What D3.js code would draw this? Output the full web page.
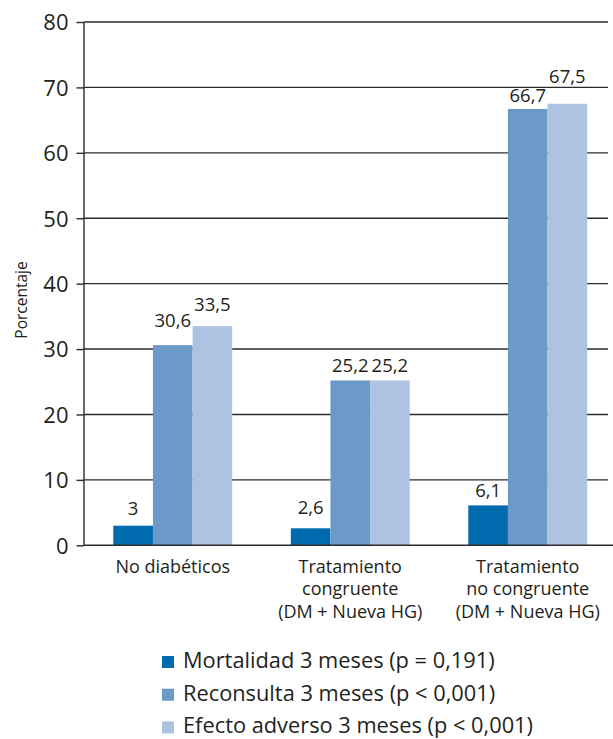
<!DOCTYPE html>
<html>
<head>
<meta charset="utf-8">
<script src="https://cdn.jsdelivr.net/npm/d3@7"></script>
<style>
  html, body { margin: 0; padding: 0; background: #fff; }
  svg { display: block; font-family: "Open Sans", "Noto Sans", sans-serif; }
</style>
</head>
<body>
<svg id="chart" width="613" height="739"></svg>
<script>
// ---- data ----
const categories = [
  ["No diabéticos"],
  ["Tratamiento", "congruente", "(DM + Nueva HG)"],
  ["Tratamiento", "no congruente", "(DM + Nueva HG)"]
];
const seriesNames = [
  "Mortalidad 3 meses (p = 0,191)",
  "Reconsulta 3 meses (p < 0,001)",
  "Efecto adverso 3 meses (p < 0,001)"
];
const mortalidad = [3, 2.6, 6.1];
const reconsulta = [30.6, 25.2, 66.7];
const efectoAdverso = [33.5, 25.2, 67.5];
const yTicks = [0, 10, 20, 30, 40, 50, 60, 70, 80];
const colors = ["#006bae", "#6b9ac9", "#aec3e1"];

const seriesValues = [mortalidad, reconsulta, efectoAdverso];
const fmt = v => String(v).replace(".", ",");

// ---- layout ----
const svg = d3.select("#chart");
const mLeft = 84, mRight = 616.5, mTop = 22, mBottom = 545.3;
const axisColor = "#2b2b2b";

const y = d3.scaleLinear().domain([0, 80]).range([mBottom, mTop]);
const x0 = d3.scaleBand().domain(d3.range(categories.length))
  .range([mLeft, mRight]).paddingInner(0.33).paddingOuter(0.165);
const x1 = d3.scaleBand().domain(d3.range(seriesValues.length))
  .range([0, x0.bandwidth()]);

// gridlines
svg.append("g").selectAll("line").data(yTicks.filter(t => t > 0)).join("line")
  .attr("x1", mLeft).attr("x2", 608)
  .attr("y1", d => y(d)).attr("y2", d => y(d))
  .attr("stroke", axisColor).attr("stroke-width", 1.4);

// y axis
const yAxis = d3.axisLeft(y).tickValues(yTicks).tickSize(7.5).tickPadding(8);
const gy = svg.append("g").attr("transform", `translate(${mLeft},0)`).call(yAxis);
gy.select(".domain").attr("stroke", axisColor).attr("stroke-width", 1.4)
  .attr("d", `M0,${y(80)}V${y(0)}`);
gy.selectAll(".tick line").attr("stroke", axisColor).attr("stroke-width", 1.4);
gy.selectAll(".tick text").attr("font-size", 22).attr("fill", "#231f20")
  .attr("font-family", "Open Sans, sans-serif").attr("dy", "0.36em");

// y title
svg.append("text")
  .attr("transform", `translate(27,${300}) rotate(-90)`)
  .attr("text-anchor", "middle").attr("font-size", 15.5).attr("fill", "#231f20")
  .text("Porcentaje");

// bars
const groups = svg.append("g").selectAll("g").data(categories).join("g")
  .attr("transform", (d, i) => `translate(${x0(i)},0)`);

groups.selectAll("rect")
  .data((d, i) => seriesValues.map((s, j) => ({ s: j, v: s[i] })))
  .join("rect")
  .attr("x", d => x1(d.s)).attr("width", x1.bandwidth())
  .attr("y", d => y(d.v)).attr("height", d => y(0) - y(d.v))
  .attr("fill", d => colors[d.s]);

// baseline (x axis)
svg.append("line").attr("x1", mLeft).attr("x2", 613)
  .attr("y1", y(0)).attr("y2", y(0))
  .attr("stroke", axisColor).attr("stroke-width", 1.4);

// value labels (lift above bar top, in px; a few nudged as in the original)
const lift = [[11, 18, 15], [14, 8, 8], [8, 7, 21]];
groups.each(function (d, i) {
  d3.select(this).selectAll("text.val")
    .data(seriesValues.map((s, j) => ({ s: j, v: s[i] })))
    .join("text").attr("class", "val")
    .attr("x", dd => x1(dd.s) + x1.bandwidth() / 2)
    .attr("y", dd => y(dd.v) - lift[i][dd.s])
    .attr("text-anchor", "middle").attr("font-size", 18.5).attr("fill", "#231f20")
    .text(dd => fmt(dd.v));
});

// category labels
groups.each(function (lines) {
  d3.select(this).selectAll("text.cat").data(lines).join("text").attr("class", "cat")
    .attr("x", x0.bandwidth() / 2)
    .attr("y", (d, k) => 572.5 + k * 22.5)
    .attr("text-anchor", "middle").attr("font-size", 18).attr("fill", "#231f20")
    .text(d => d);
});

// legend
const leg = svg.append("g").selectAll("g").data(seriesNames).join("g")
  .attr("transform", (d, i) => `translate(162,${668 + i * 32.7})`);
leg.append("rect").attr("x", 0).attr("y", -12).attr("width", 12).attr("height", 12)
  .attr("fill", (d, i) => colors[i]);
leg.append("text").attr("x", 21).attr("y", 0).attr("font-size", 21.8).attr("fill", "#231f20")
  .text(d => d);
</script>
</body>
</html>
